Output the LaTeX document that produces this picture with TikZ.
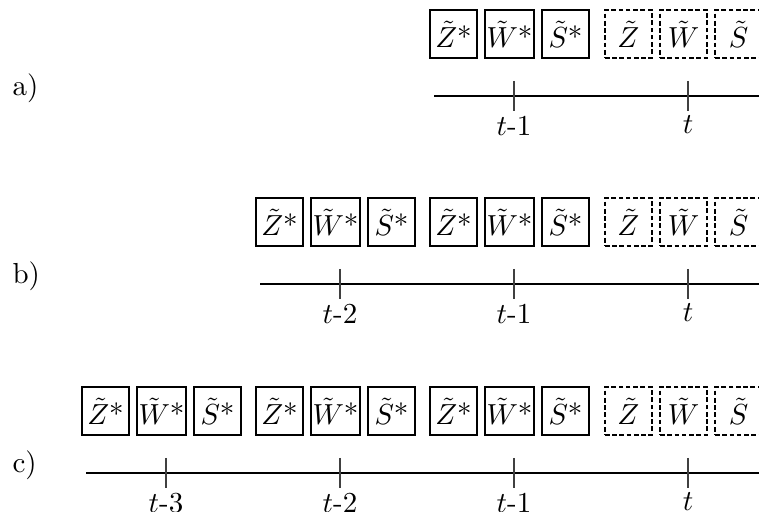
\documentclass[tikz,border=0pt]{standalone}
\usepackage{amsmath,amssymb}
\usetikzlibrary{positioning}

\begin{document}
\begin{tikzpicture}[x=0.345pt,y=0.345pt,node distance=2.05pt,
  var/.style={draw,line width=0.75pt,inner sep=0.5pt,minimum width=16.2pt,minimum height=16.4pt},
  fut/.style={var,dash pattern=on 1.6pt off 0.9pt},
  tickmark/.style={line width=0.45pt,black!75},
  axis/.style={line width=0.9pt},
  lab/.style={inner sep=1.5pt,anchor=north}]
  \useasboundingbox (0,0) rectangle (759,512);
  % one row per case: a) one past step, b) two, c) three
  \foreach \row/\yy/\np in {a/416/1,b/228/2,c/39/3} {
    \node[anchor=base west,inner sep=0pt] (\row) at (12,\yy) {\row)};
    \coordinate (\row L) at ({688-174*\np-80},\yy);
    \coordinate (\row R) at (765,\yy);
    \draw[axis] (\row L) -- (\row R);
    % current step t (not yet observed)
    \coordinate (\row u0) at (688,{\yy+15});
    \coordinate (\row d0) at (688,{\yy-15});
    \draw[tickmark] (\row u0) -- (\row d0);
    \node[lab] (\row l0) at (\row d0) {$t$};
    \node[fut] (\row W0) at (683.5,{\yy+62}) {$\tilde W$};
    \node[fut,left=of \row W0] (\row Z0) {$\tilde Z$};
    \node[fut,right=of \row W0] (\row S0) {$\tilde S$};
    % past steps
    \foreach \st in {1,...,\np} {
      \coordinate (\row u\st) at ({688-174*\st},{\yy+15});
      \coordinate (\row d\st) at ({688-174*\st},{\yy-15});
      \draw[tickmark] (\row u\st) -- (\row d\st);
      \node[lab] (\row l\st) at (\row d\st) {$t$-\st};
      \node[var] (\row W\st) at ({683.5-174*\st},{\yy+62}) {$\tilde W$*};
      \node[var,left=of \row W\st] (\row Z\st) {$\tilde Z$*};
      \node[var,right=of \row W\st] (\row S\st) {$\tilde S$*};
    }
  }
\end{tikzpicture}
\end{document}
